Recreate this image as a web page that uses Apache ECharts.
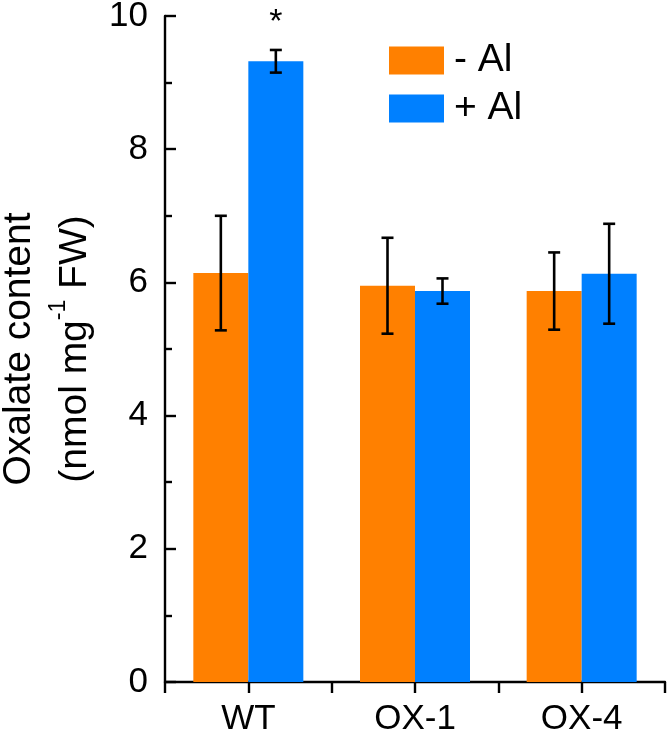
<!DOCTYPE html>
<html>
<head>
<meta charset="utf-8">
<script src="https://cdn.jsdelivr.net/npm/echarts@6/dist/echarts.min.js"></script>
<style>html,body{margin:0;padding:0;background:#fff;}#c{width:670px;height:735px;}</style>
</head>
<body>
<div id="c"></div>
<script>
var categories = ['WT', 'OX-1', 'OX-4'];
var minusAl = [6.14, 5.95, 5.87];
var minusAlErr = [0.86, 0.72, 0.58];
var plusAl = [9.32, 5.87, 6.13];
var plusAlErr = [0.17, 0.19, 0.75];
var plusAlSig = ['*', '', ''];
var yTicks = [0, 2, 4, 6, 8, 10];

var FONT = '"Liberation Sans", Arial, Helvetica, sans-serif';
var CAT_GAP = 0.34;
var ORANGE = '#FF8000';
var BLUE = '#0080FF';

function errData(vals, errs) {
  return vals.map(function (v, i) { return [i, v, errs[i]]; });
}

function makeRender(sign, sigArr) {
  return function (params, api) {
    var idx = api.value(0);
    var v = api.value(1), e = api.value(2);
    var band = api.size([1, 0])[0];
    var bw = band * (1 - CAT_GAP) / 2;
    var cx = api.coord([idx, v])[0] + sign * bw / 2;
    var yT = api.coord([idx, v + e])[1];
    var yB = api.coord([idx, v - e])[1];
    var cap = 6;
    var st = { stroke: '#000', lineWidth: 2.6 };
    var children = [
      { type: 'line', shape: { x1: cx, y1: yT, x2: cx, y2: yB }, style: st },
      { type: 'line', shape: { x1: cx - cap, y1: yT, x2: cx + cap, y2: yT }, style: st },
      { type: 'line', shape: { x1: cx - cap, y1: yB, x2: cx + cap, y2: yB }, style: st }
    ];
    var s = sigArr ? sigArr[idx] : '';
    if (s) {
      children.push({ type: 'text', style: { text: s, x: cx, y: yT - 10, align: 'center', verticalAlign: 'bottom', fontSize: 34, fontFamily: FONT, fill: '#000' } });
    }
    return { type: 'group', children: children };
  };
}

var chart = echarts.init(document.getElementById('c'), null, { renderer: 'canvas' });
var axisColor = '#000';
chart.setOption({
  animation: false,
  backgroundColor: '#fff',
  grid: { left: 165, right: 5, top: 16, bottom: 53, containLabel: false, outerBoundsMode: 'none' },
  legend: {
    orient: 'vertical', left: 389, top: 41, padding: 0,
    itemWidth: 55, itemHeight: 28, itemGap: 9,
    icon: 'rect',
    data: ['- Al', '+ Al'],
    textStyle: { fontSize: 39, fontFamily: FONT, color: '#000', padding: [0, 0, 0, 5] }
  },
  xAxis: [{
    type: 'category', data: categories, boundaryGap: true,
    axisLine: { lineStyle: { color: axisColor, width: 2.4 } },
    axisTick: { show: true, inside: false, length: 11, lineStyle: { color: axisColor, width: 2.4 } },
    axisLabel: { fontSize: 35, fontFamily: FONT, color: '#000', margin: 20 }
  }, {
    type: 'category', data: categories, boundaryGap: true, position: 'bottom',
    axisLine: { show: false },
    axisTick: { show: true, alignWithLabel: true, inside: false, length: 11, lineStyle: { color: axisColor, width: 2.4 } },
    axisLabel: { show: false }
  }],
  yAxis: {
    type: 'value', min: yTicks[0], max: yTicks[yTicks.length - 1], interval: 2,
    axisLine: { show: true, lineStyle: { color: axisColor, width: 2.4 } },
    axisTick: { show: true, inside: true, length: 11, lineStyle: { color: axisColor, width: 2.4 } },
    minorTick: { show: true, splitNumber: 2, length: 7, lineStyle: { color: axisColor, width: 2.4 } },
    splitLine: { show: false },
    axisLabel: { fontSize: 35, fontFamily: FONT, color: '#000', margin: 17 },
    name: '{t|Oxalate content}\n{t|(nmol mg}{s|-1}{t| FW)}',
    nameLocation: 'middle',
    nameGap: 62,
    nameTextStyle: {
      fontFamily: FONT, color: '#000',
      rich: {
        t: { fontSize: 39, lineHeight: 56, fontFamily: FONT, color: '#000' },
        s: { fontSize: 23, lineHeight: 34, verticalAlign: 'top', fontFamily: FONT, color: '#000' }
      }
    }
  },
  series: [{
    name: '- Al', type: 'bar', data: minusAl, xAxisIndex: 0,
    barGap: '0%', barCategoryGap: (CAT_GAP * 100) + '%',
    itemStyle: { color: ORANGE }
  }, {
    name: '+ Al', type: 'bar', data: plusAl, xAxisIndex: 0,
    barGap: '0%', barCategoryGap: (CAT_GAP * 100) + '%',
    itemStyle: { color: BLUE }
  }, {
    type: 'custom', xAxisIndex: 0, z: 10,
    renderItem: makeRender(-1, null),
    data: errData(minusAl, minusAlErr)
  }, {
    type: 'custom', xAxisIndex: 0, z: 10,
    renderItem: makeRender(1, plusAlSig),
    data: errData(plusAl, plusAlErr)
  }]
});
</script>
</body>
</html>
